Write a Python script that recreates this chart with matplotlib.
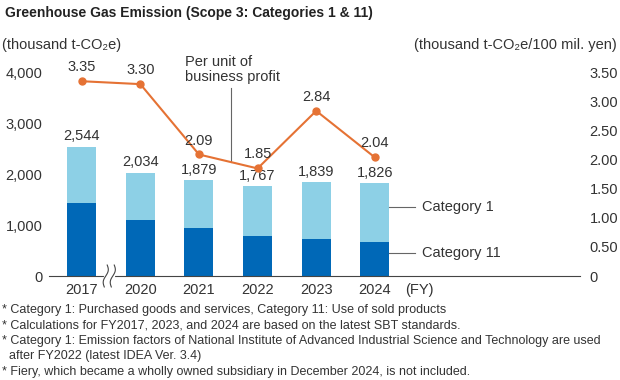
import matplotlib
matplotlib.use("Agg")
import matplotlib.pyplot as plt
import numpy as np

plt.rcParams["font.family"] = ["Liberation Sans", "DejaVu Sans"]

years = ["2017", "2020", "2021", "2022", "2023", "2024"]
cat11 = [1440, 1108, 951, 794, 735, 676]
totals = [2544, 2034, 1879, 1767, 1839, 1826]
intensity = [3.35, 3.30, 2.09, 1.85, 2.84, 2.04]
notes = [
    "* Category 1: Purchased goods and services, Category 11: Use of sold products",
    "* Calculations for FY2017, 2023, and 2024 are based on the latest SBT standards.",
    "* Category 1: Emission factors of National Institute of Advanced Industrial Science and Technology are used\n  after FY2022 (latest IDEA Ver. 3.4)",
    "* Fiery, which became a wholly owned subsidiary in December 2024, is not included.",
]

dark = "#0068b7"
light = "#8dd0e6"
orange = "#e57234"
txt = "#333333"
fs = 10.5

cat1 = [t - c for t, c in zip(totals, cat11)]
x = np.arange(len(years))

fig = plt.figure(figsize=(6.2, 3.8), dpi=100)
ax = fig.add_axes([49.3 / 620, 1 - 276 / 380, (580 - 49.3) / 620, (276 - 72.5) / 380])
ax2 = ax.twinx()

ax.bar(x, cat11, width=0.495, color=dark, zorder=2)
ax.bar(x, cat1, width=0.495, bottom=cat11, color=light, zorder=2)
for xi, t in zip(x, totals):
    ax.annotate(f"{t:,}", (xi, t), xytext=(0, 2.5), textcoords="offset points",
                ha="center", va="bottom", fontsize=fs, color=txt)

ax.set_xlim(-0.553, 8.50)
ax.set_ylim(0, 4000)
ax.set_yticks([0, 1000, 2000, 3000, 4000])
ax.set_yticklabels(["0", "1,000", "2,000", "3,000", "4,000"])
ax.set_xticks(x)
ax.set_xticklabels(years)
for s in ["top", "right", "left"]:
    ax.spines[s].set_visible(False)
    ax2.spines[s].set_visible(False)
ax.spines["bottom"].set_color("#444444")
ax2.spines["bottom"].set_visible(False)
ax.tick_params(axis="both", length=0, labelsize=fs, colors=txt, pad=5)
ax.tick_params(axis="x", pad=5)

ax2.plot(x, intensity, color=orange, lw=1.5, marker="o", ms=5, zorder=3, clip_on=False)
for xi, v in zip(x, intensity):
    ax2.annotate(f"{v:.2f}", (xi, v), xytext=(0, 5), textcoords="offset points",
                 ha="center", va="bottom", fontsize=fs, color=txt)
ax2.set_ylim(0, 3.5)
ax2.set_yticks(np.arange(0, 3.51, 0.5))
ax2.set_yticklabels(["0"] + [f"{v:.2f}" for v in np.arange(0.5, 3.51, 0.5)])
ax2.tick_params(axis="y", length=0, labelsize=fs, colors=txt, pad=7)

# wavy axis break on baseline
t = np.linspace(-1, 1, 30)
ax.plot([0.41, 0.53], [0, 0], color="white", lw=3, clip_on=False, zorder=3)
for x0 in (0.41, 0.53):
    ax.plot(x0 + 0.025 * t + 0.03 * np.sin(np.pi * t), 215 * t, color="#444444",
            lw=0.8, clip_on=False, zorder=4)

ax.annotate("(FY)", (5.52, 0), xycoords=("data", "axes fraction"), xytext=(0, -5),
            textcoords="offset points", ha="left", va="top", fontsize=fs, color=txt)

# series labels
c1y, c11y = 1361, 458
ax.plot([5.25, 5.69], [c1y, c1y], color="#666666", lw=0.8)
ax.text(5.80, c1y, "Category 1", va="center", fontsize=fs, color=txt)
ax.plot([5.25, 5.69], [c11y, c11y], color="#666666", lw=0.8)
ax.text(5.80, c11y, "Category 11", va="center", fontsize=fs, color=txt)

# per unit annotation
ax2.plot([2.543, 2.543], [1.966, 3.23], color="#666666", lw=0.8)
ax2.text(1.763, 3.31, "Per unit of\nbusiness profit", ha="left", va="bottom",
         fontsize=fs, color=txt, linespacing=1.05)

fig.text(5 / 620, 1 - 13 / 380, "Greenhouse Gas Emission (Scope 3: Categories 1 & 11)",
         fontsize=10, fontweight="bold", color="#222222", va="center", ha="left")
fig.text(2 / 620, 1 - 45 / 380, "(thousand t-CO\u2082e)", fontsize=fs, color=txt,
         va="center", ha="left")
fig.text(617 / 620, 1 - 45 / 380, "(thousand t-CO\u2082e/100 mil. yen)", fontsize=fs,
         color=txt, va="center", ha="right")

ys = [310, 326, 348.5, 372]
for yy, n in zip(ys, notes):
    fig.text(2 / 620, 1 - yy / 380, n, fontsize=9, color=txt, va="center", ha="left",
             linespacing=1.25)

fig.savefig("out.png", dpi=100)
